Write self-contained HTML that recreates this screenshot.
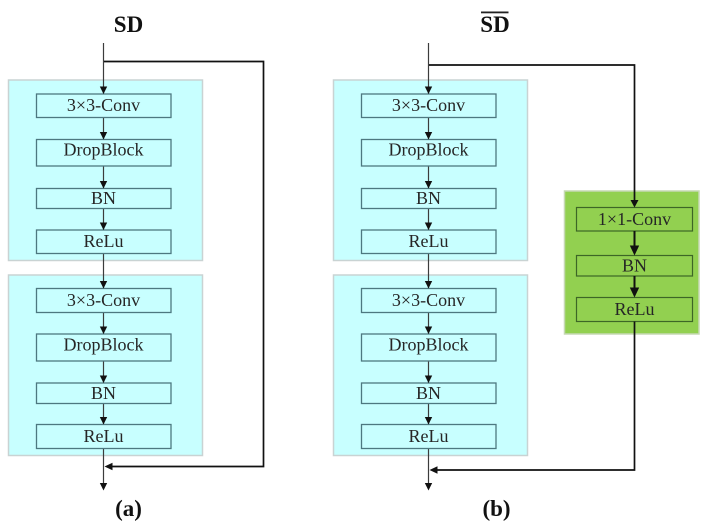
<!DOCTYPE html>
<html>
<head>
<meta charset="utf-8">
<style>
html,body{margin:0;padding:0;background:#fff}
svg{display:block;filter:blur(0.35px)}
text{font-family:"Liberation Serif",serif;fill:#262626;font-size:18px;text-anchor:middle}
.t{font-weight:bold;fill:#111;font-size:23px}
.p{fill:#c8ffff;stroke:#c9d3d3;stroke-width:1.5}
.b{fill:#c8ffff;stroke:#4d7880;stroke-width:1.3}
.g{fill:#92d050;stroke:#c6d8b4;stroke-width:1.5}
.h{fill:#92d050;stroke:#3d6626;stroke-width:1.2}
.l{stroke:#3c3c3c;stroke-width:1.2;fill:none}
.k{stroke:#111;stroke-width:1.7;fill:none}
.a{fill:#111}
</style>
</head>
<body>
<svg width="706" height="526" viewBox="0 0 706 526" xmlns="http://www.w3.org/2000/svg">
<defs>
<g id="stack">
  <rect class="p" x="8.5" y="80" width="194" height="180.5"/>
  <rect class="p" x="8.5" y="275" width="194" height="180.5"/>
  <path class="l" d="M103.5 43V94M103.5 117V140M103.5 166V189M103.5 208V230M103.5 253V289M103.5 312V334M103.5 361V383M103.5 403V425M103.5 448V484"/>
  <rect class="b" x="36.5" y="94" width="134.5" height="23.5"/>
  <rect class="b" x="36.5" y="139.5" width="134.5" height="26.500"/>
  <rect class="b" x="36.5" y="188.5" width="134.5" height="20"/>
  <rect class="b" x="36.5" y="230" width="134.5" height="23.5"/>
  <rect class="b" x="36.5" y="288.5" width="134.5" height="24"/>
  <rect class="b" x="36.5" y="334" width="134.5" height="27"/>
  <rect class="b" x="36.5" y="383" width="134.5" height="20.5"/>
  <rect class="b" x="36.5" y="424.5" width="134.5" height="24"/>
  <path class="a" d="M99.800 86.500h7.400l-3.700 7.500zM99.800 132h7.400l-3.700 7.500zM99.800 181h7.400l-3.700 7.500zM99.800 222.500h7.400l-3.700 7.500zM99.800 281h7.400l-3.700 7.500zM99.800 326.500h7.400l-3.700 7.500zM99.800 375.500h7.400l-3.700 7.500zM99.800 417h7.400l-3.700 7.500zM99.800 483h7.400l-3.700 7.500z"/>
  <text x="103.500" y="111">3×3-Conv</text>
  <text x="103.500" y="155.500">DropBlock</text>
  <text x="103.500" y="204">BN</text>
  <text x="103.500" y="247">ReLu</text>
  <text x="103.500" y="306">3×3-Conv</text>
  <text x="103.500" y="350.500">DropBlock</text>
  <text x="103.500" y="399">BN</text>
  <text x="103.500" y="442">ReLu</text>
</g>
</defs>

<use href="#stack"/>
<use href="#stack" x="325"/>

<text class="t" x="128.500" y="32">SD</text>
<path class="k" d="M104 61.500H263.500V466.500H108"/>
<path class="a" d="M104.500 466.500l8-3.700v7.400z"/>
<text class="t" x="128.500" y="516">(a)</text>

<text class="t" x="495" y="32">SD</text>
<rect x="481" y="11.500" width="27.500" height="1.800" fill="#222"/>
<rect class="g" x="564.500" y="191" width="134.500" height="143"/>
<path class="k" d="M429 65H634.500V202"/>
<rect class="h" x="576.500" y="207.500" width="116" height="23.500"/>
<rect class="h" x="576.500" y="255.500" width="116" height="20.500"/>
<rect class="h" x="576.500" y="297.500" width="116" height="24"/>
<path class="a" d="M630.500 200h8l-4 7.500z"/>
<path stroke="#111" stroke-width="2" d="M634.500 231V248M634.500 276V290"/>
<path class="a" d="M629.800 245.500h9.400l-4.700 10zM629.800 287.500h9.400l-4.700 10z"/>
<text x="634.500" y="225">1×1-Conv</text>
<text x="634.500" y="271.500">BN</text>
<text x="634.500" y="315">ReLu</text>
<path class="k" d="M634.500 321.500V470H434"/>
<path class="a" d="M429.500 470l8-3.700v7.400z"/>
<text class="t" x="496.500" y="516">(b)</text>
</svg>
</body>
</html>
